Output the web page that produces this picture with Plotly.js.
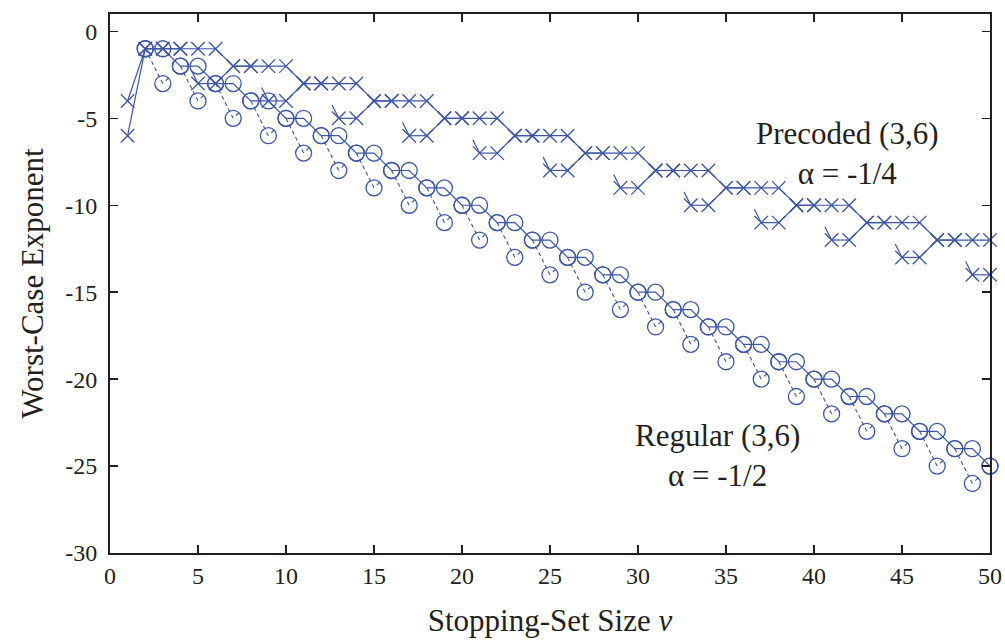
<!DOCTYPE html>
<html>
<head>
<meta charset="utf-8">
<script src="https://cdn.plot.ly/plotly-3.0.1.min.js"></script>
<style>
  html, body { margin: 0; padding: 0; background: #fff; }
  #chart { width: 1005px; height: 642px; }
</style>
</head>
<body>
<div id="chart"></div>
<script>
// Stopping-set size v
const setSize = [1,2,3,4,5,6,7,8,9,10,11,12,13,14,15,16,17,18,19,20,21,22,23,24,25,
                 26,27,28,29,30,31,32,33,34,35,36,37,38,39,40,41,42,43,44,45,46,47,48,49,50];

// Regular (3,6) ensemble, alpha = -1/2
const regularSolid = [null,-1,-1,-2,-2,-3,-3,-4,-4,-5,-5,-6,-6,-7,-7,-8,-8,-9,-9,-10,-10,
                      -11,-11,-12,-12,-13,-13,-14,-14,-15,-15,-16,-16,-17,-17,-18,-18,-19,-19,
                      -20,-20,-21,-21,-22,-22,-23,-23,-24,-24,-25];
const regularDashed = [null,-1,-3,-2,-4,-3,-5,-4,-6,-5,-7,-6,-8,-7,-9,-8,-10,-9,-11,-10,-12,
                       -11,-13,-12,-14,-13,-15,-14,-16,-15,-17,-16,-18,-17,-19,-18,-20,-19,-21,
                       -20,-22,-21,-23,-22,-24,-23,-25,-24,-26,-25];

// Precoded (3,6) ensemble, alpha = -1/4
const precodedSolid = [-4,-1,-1,-1,-1,-1,-2,-2,-2,-2,-3,-3,-3,-3,-4,-4,-4,-4,-5,-5,-5,-5,
                       -6,-6,-6,-6,-7,-7,-7,-7,-8,-8,-8,-8,-9,-9,-9,-9,-10,-10,-10,-10,
                       -11,-11,-11,-11,-12,-12,-12,-12];
const precodedDashed = [-6,-1,-1,-1,-3,-3,-2,-2,-4,-4,-3,-3,-5,-5,-4,-4,-6,-6,-5,-5,-7,-7,
                        -6,-6,-8,-8,-7,-7,-9,-9,-8,-8,-10,-10,-9,-9,-11,-11,-10,-10,-12,-12,
                        -11,-11,-13,-13,-12,-12,-14,-14];

const xTicks = [0,5,10,15,20,25,30,35,40,45,50];
const yTicks = [-30,-25,-20,-15,-10,-5,0];

const blue = '#3b56a8';
const ink = '#231f20';
const serif = 'Liberation Serif, Times New Roman, serif';

// Split a series into its falling steps and its remaining (flat / rising) pieces,
// so each kind of step can get its own stroke pattern.
function splitSteps(xs, ys) {
  const down = { x: [], y: [] };
  const rest = { x: [], y: [] };
  for (let i = 1; i < xs.length; i++) {
    const y0 = ys[i - 1], y1 = ys[i];
    if (y0 === null || y1 === null) continue;
    const target = y1 < y0 ? down : rest;
    target.x.push(xs[i - 1], xs[i], null);
    target.y.push(y0, y1, null);
  }
  return { down, rest };
}

const regSteps = splitSteps(setSize, regularDashed);
const preSteps = splitSteps(setSize, precodedDashed);

const lineTrace = (seg, dash, width) => ({
  x: seg.x, y: seg.y, type: 'scatter', mode: 'lines',
  line: { color: blue, width: width || 1.2, dash: dash },
  connectgaps: false, cliponaxis: false, hoverinfo: 'skip'
});

const circleMarker = { symbol: 'circle-open', size: 16, color: blue, line: { color: blue, width: 1.3 } };
const crossMarker = { symbol: 'x-thin-open', size: 13.5, color: blue, line: { color: blue, width: 1.3 } };

const traces = [
  // regular, dashed branch
  lineTrace(regSteps.down, '4px,3px', 1.1),
  lineTrace(regSteps.rest, '0px,4px,4px,200px', 1.1),
  { x: setSize, y: regularDashed, type: 'scatter', mode: 'markers',
    marker: circleMarker, cliponaxis: false, hoverinfo: 'skip' },
  // regular, solid branch
  { x: setSize, y: regularSolid, type: 'scatter', mode: 'lines+markers',
    line: { color: blue, width: 1.2 }, marker: circleMarker, cliponaxis: false, hoverinfo: 'skip' },
  // precoded, dashed branch
  lineTrace(preSteps.down, '0px,24px,20px,200px', 1.2),
  lineTrace(preSteps.rest, 'solid', 1.2),
  { x: setSize, y: precodedDashed, type: 'scatter', mode: 'markers',
    marker: crossMarker, cliponaxis: false, hoverinfo: 'skip' },
  // precoded, solid branch
  { x: setSize, y: precodedSolid, type: 'scatter', mode: 'lines+markers',
    line: { color: blue, width: 1.2 }, marker: crossMarker, cliponaxis: false, hoverinfo: 'skip' }
];

const axisCommon = {
  showline: true, linecolor: ink, linewidth: 2, mirror: 'allticks',
  ticks: 'inside', ticklen: 8, tickwidth: 1.5, tickcolor: ink,
  showgrid: false, zeroline: false,
  tickfont: { family: serif, size: 24, color: ink }
};

const layout = {
  width: 1005, height: 642,
  margin: { l: 110, r: 15, t: 14, b: 89 },
  paper_bgcolor: '#fff', plot_bgcolor: '#fff',
  showlegend: false,
  xaxis: Object.assign({}, axisCommon, {
    range: [0, 50], tickvals: xTicks, ticktext: xTicks.map(String),
    title: { text: 'Stopping-Set Size <i>v</i>', font: { family: serif, size: 31, color: ink }, standoff: 22 }
  }),
  yaxis: Object.assign({}, axisCommon, {
    range: [-30, 1], tickvals: yTicks, ticktext: yTicks.map(String),
    ticklabelstandoff: 6,
    title: { text: 'Worst-Case Exponent', font: { family: serif, size: 31, color: ink }, standoff: 12 }
  }),
  annotations: [
    { x: 41.9, y: -7.0, xref: 'x', yref: 'y', showarrow: false,
      text: 'Precoded (3,6)<br>α = -1/4', align: 'center',
      font: { family: serif, size: 31, color: ink } },
    { x: 34.5, y: -24.4, xref: 'x', yref: 'y', showarrow: false,
      text: 'Regular (3,6)<br>α = -1/2', align: 'center',
      font: { family: serif, size: 31, color: ink } }
  ]
};

Plotly.newPlot('chart', traces, layout, { staticPlot: true, displayModeBar: false });
</script>
</body>
</html>
